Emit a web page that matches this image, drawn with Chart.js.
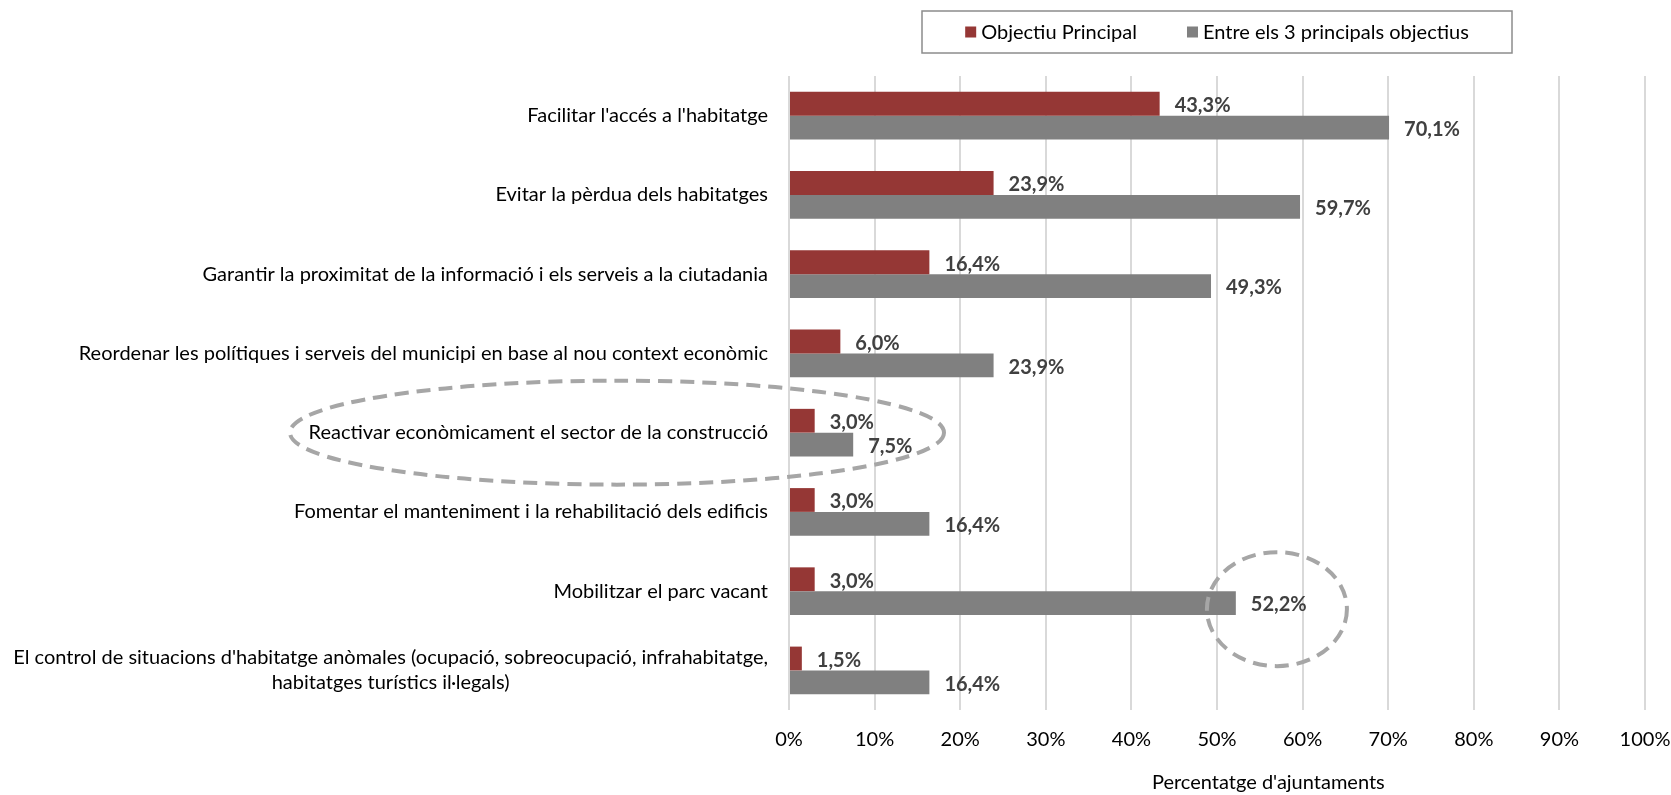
<!DOCTYPE html>
<html>
<head>
<meta charset="utf-8">
<script src="https://cdn.jsdelivr.net/npm/chart.js@4/dist/chart.umd.min.js"></script>
<style>
  body { margin: 0; background: #fff; }
  canvas { display: block; }
</style>
</head>
<body>
<canvas id="objectiusChart" width="1671" height="795"></canvas>
<script>
const categories = [
  "Facilitar l'accés a l'habitatge",
  "Evitar la pèrdua dels habitatges",
  "Garantir la proximitat de la informació i els serveis a la ciutadania",
  "Reordenar les polítiques i serveis del municipi en base al nou context econòmic",
  "Reactivar econòmicament el sector de la construcció",
  "Fomentar el manteniment i la rehabilitació dels edificis",
  "Mobilitzar el parc vacant",
  ["El control de situacions d'habitatge anòmales (ocupació, sobreocupació, infrahabitatge,", "habitatges turístics il·legals)"]
];
const objectiuPrincipal = [43.3, 23.9, 16.4, 6.0, 3.0, 3.0, 3.0, 1.5];
const entreTresPrincipals = [70.1, 59.7, 49.3, 23.9, 7.5, 16.4, 52.2, 16.4];
const xTicks = [0, 10, 20, 30, 40, 50, 60, 70, 80, 90, 100];
const axisTitle = "Percentatge d'ajuntaments";

const FONT = "Lato, 'Open Sans', sans-serif";

// Labels, legend, axis title and the dashed highlight ellipses
const extrasPlugin = {
  id: 'extras',
  afterDatasetsDraw(chart) {
    const ctx = chart.ctx;
    const area = chart.chartArea;
    const y = chart.scales.y;
    const x = chart.scales.x;

    // value labels
    ctx.save();
    ctx.font = "bold 20px " + FONT;
    ctx.fillStyle = '#404040';
    ctx.textBaseline = 'middle';
    ctx.textAlign = 'left';
    chart.data.datasets.forEach((ds, di) => {
      chart.getDatasetMeta(di).data.forEach((bar, i) => {
        const txt = ds.data[i].toFixed(1).replace('.', ',') + '%';
        ctx.fillText(txt, bar.x + 15, bar.y + 2);
      });
    });
    ctx.restore();

    // category labels (multi-line ones centred on each other)
    ctx.save();
    ctx.font = "20px " + FONT;
    ctx.fillStyle = '#000';
    ctx.textBaseline = 'middle';
    const right = area.left - 21;
    chart.data.labels.forEach((lab, i) => {
      const cy = y.getPixelForValue(i);
      const lines = Array.isArray(lab) ? lab : [lab];
      const widths = lines.map(l => ctx.measureText(l).width);
      const maxW = Math.max(...widths);
      const lh = 25;
      lines.forEach((l, k) => {
        const ly = cy + (k - (lines.length - 1) / 2) * lh;
        ctx.textAlign = 'center';
        ctx.fillText(l, right - maxW / 2, ly);
      });
    });
    ctx.restore();

    // axis title
    ctx.save();
    ctx.font = "20px " + FONT;
    ctx.fillStyle = '#000';
    ctx.textAlign = 'center';
    ctx.textBaseline = 'middle';
    ctx.fillText(axisTitle, x.getPixelForValue(56), 783);
    ctx.restore();

    // legend
    ctx.save();
    const cx = (area.left + area.right) / 2;
    const boxW = 590, boxH = 42, boxTop = 11;
    ctx.strokeStyle = '#8c8c8c';
    ctx.lineWidth = 1.5;
    ctx.strokeRect(cx - boxW / 2, boxTop, boxW, boxH);
    ctx.font = "20px " + FONT;
    ctx.textBaseline = 'middle';
    ctx.textAlign = 'left';
    const items = chart.data.datasets.map(d => ({ text: d.label, color: d.backgroundColor }));
    const gap = 50;
    const sq = 11;
    const widths = items.map(it => sq + 5 + ctx.measureText(it.text).width);
    const total = widths.reduce((a, b) => a + b, 0) + gap;
    let lx = cx - total / 2;
    const ly = boxTop + boxH / 2;
    items.forEach((it, k) => {
      ctx.fillStyle = it.color;
      ctx.fillRect(lx, ly - sq / 2, sq, sq);
      ctx.fillStyle = '#000';
      ctx.fillText(it.text, lx + sq + 5, ly + 1);
      lx += widths[k] + gap;
    });
    ctx.restore();

    // dashed highlight ellipses
    ctx.save();
    ctx.strokeStyle = '#a6a6a6';
    ctx.lineWidth = 4;
    ctx.setLineDash([14, 8]);
    ctx.beginPath();
    ctx.ellipse(area.left - 172, y.getPixelForValue(4), 327, 52, 0, 0, Math.PI * 2);
    ctx.stroke();
    ctx.beginPath();
    ctx.ellipse(x.getPixelForValue(57), y.getPixelForValue(6) + 18, 70, 57, 0, 0, Math.PI * 2);
    ctx.stroke();
    ctx.restore();
  }
};

const ctx = document.getElementById('objectiusChart').getContext('2d');
new Chart(ctx, {
  type: 'bar',
  data: {
    labels: categories,
    datasets: [
      {
        label: 'Objectiu Principal',
        data: objectiuPrincipal,
        backgroundColor: '#953735',
        categoryPercentage: 0.6,
        barPercentage: 1.0
      },
      {
        label: 'Entre els 3 principals objectius',
        data: entreTresPrincipals,
        backgroundColor: '#808080',
        categoryPercentage: 0.6,
        barPercentage: 1.0
      }
    ]
  },
  options: {
    indexAxis: 'y',
    responsive: false,
    animation: false,
    layout: { padding: { top: 76, right: 26, left: 0, bottom: 0 } },
    plugins: {
      legend: { display: false },
      tooltip: { enabled: false }
    },
    scales: {
      x: {
        min: 0,
        max: 100,
        afterBuildTicks(scale) {
          scale.ticks = xTicks.map(v => ({ value: v }));
        },
        afterFit(scale) {
          scale.height = 85;
          scale.paddingLeft = 0;
          scale.paddingRight = 0;
        },
        grid: { color: '#d9d9d9', lineWidth: 2, drawTicks: false },
        border: { display: false },
        ticks: {
          padding: 18,
          color: '#000',
          font: { family: FONT, size: 20 },
          callback: v => v + '%'
        }
      },
      y: {
        afterFit(scale) { scale.width = 789; },
        grid: { display: false },
        border: { display: false },
        ticks: { display: false }
      }
    }
  },
  plugins: [extrasPlugin]
});
</script>
</body>
</html>
